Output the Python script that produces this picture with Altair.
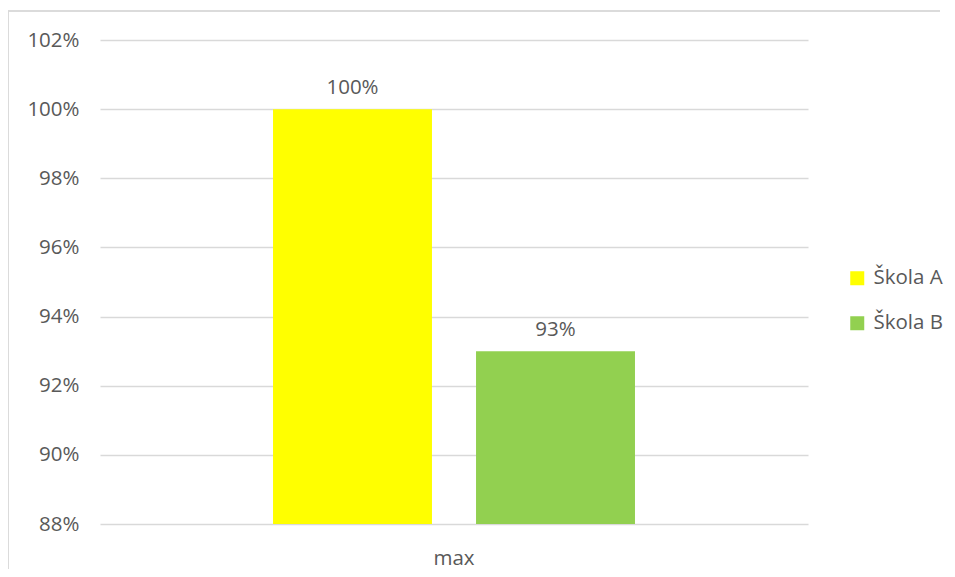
import altair as alt
import pandas as pd

categories = ["max", "max"]
schools = ["Škola A", "Škola B"]
values = [1.00, 0.93]
colors = ["#FFFF00", "#92D050"]
y_ticks = [0.88, 0.90, 0.92, 0.94, 0.96, 0.98, 1.00, 1.02]
y_min, y_max = 0.88, 1.02

df = pd.DataFrame({"cat": categories, "school": schools, "value": values,
                   "base": [y_min] * len(values)})

FONT = "Open Sans"
GREY = "#595959"
FS = 20.5

x_enc = alt.X("cat:N", title=None,
              scale=alt.Scale(paddingInner=0, paddingOuter=0.478),
              axis=alt.Axis(labelAngle=0, labelFontSize=FS, labelColor=GREY,
                            labelFont=FONT, ticks=False, domain=False,
                            labelPadding=24, grid=False))
xo_enc = alt.XOffset("school:N", scale=alt.Scale(paddingInner=0.217, paddingOuter=0))
y_enc = alt.Y("value:Q", title=None,
              scale=alt.Scale(domain=[y_min, y_max], zero=False, nice=False),
              axis=alt.Axis(values=y_ticks, format=".0%", labelFontSize=FS,
                            labelColor=GREY, labelFont=FONT, ticks=False,
                            domain=False, gridColor="#D9D9D9", gridWidth=1.3,
                            labelPadding=21))

bars = alt.Chart(df).mark_bar().encode(
    x=x_enc, xOffset=xo_enc, y=y_enc, y2="base:Q",
    color=alt.Color("school:N", scale=alt.Scale(domain=schools, range=colors),
                    legend=alt.Legend(title=None, orient="none", legendX=747,
                                      legendY=228, symbolType="square",
                                      symbolSize=196, symbolStrokeWidth=0,
                                      labelFontSize=FS, labelColor=GREY,
                                      labelFont=FONT, labelOffset=6,
                                      rowPadding=24)),
)

labels = alt.Chart(df).mark_text(baseline="bottom", dy=-11, fontSize=FS,
                                 font=FONT, color=GREY).encode(
    x=x_enc, xOffset=xo_enc, y=y_enc,
    text=alt.Text("value:Q", format=".0%"),
)

border_top = alt.Chart(df).mark_rule(stroke="#D9D9D9", strokeWidth=1.5,
                                     clip=False).encode(
    x=alt.value(-92), x2=alt.value(840), y=alt.value(-29)
)
border_left = alt.Chart(df).mark_rule(stroke="#D9D9D9", strokeWidth=1.5,
                                      clip=False).encode(
    x=alt.value(-92), y=alt.value(-29), y2=alt.value(700)
)

chart = alt.layer(border_top, border_left, bars, labels).properties(
    width=708, height=484,
    padding={"left": 92, "top": 32, "right": 139, "bottom": 45},
    autosize=alt.AutoSizeParams(type="none"),
).configure_view(stroke=None)

chart.save("out.html", embed_options={"renderer": "svg", "actions": False})
